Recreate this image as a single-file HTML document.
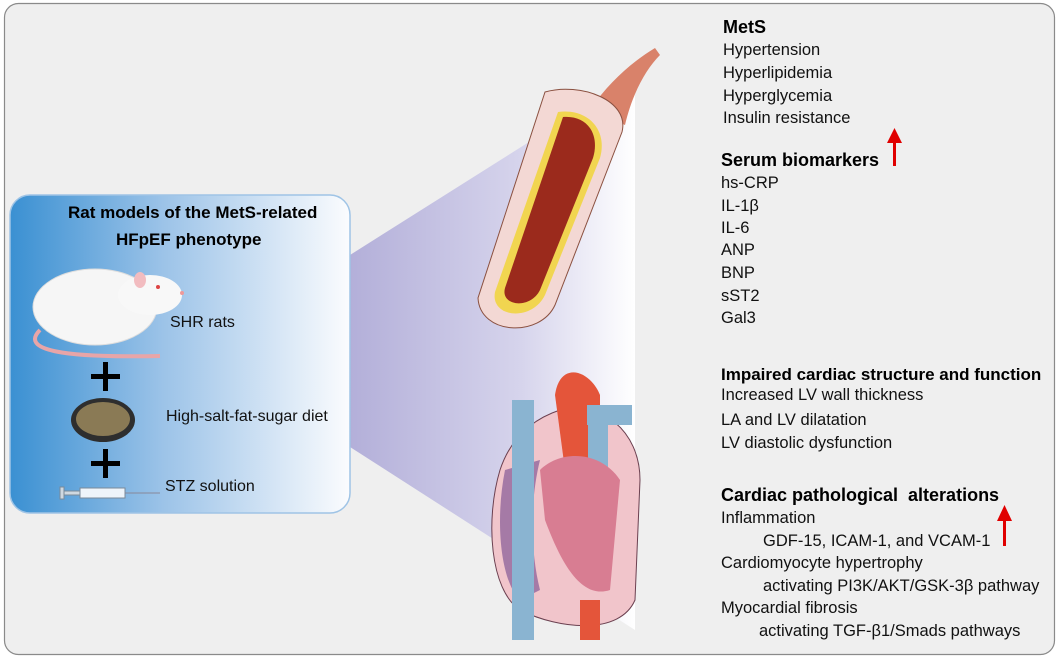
<!DOCTYPE html>
<html><head><meta charset="utf-8"><style>
body{margin:0;width:1059px;height:658px;background:#fff;font-family:"Liberation Sans",Arial,sans-serif;overflow:hidden}
svg{position:absolute;left:0;top:0}
.t{position:absolute;font-size:16.5px;color:#111;white-space:nowrap;line-height:1}
.b{font-weight:bold;font-size:17px;color:#000}
.l{font-size:16px}
</style></head><body>
<svg width="1059" height="658" viewBox="0 0 1059 658">
<defs>
<linearGradient id="box" x1="0" x2="1" y1="0" y2="0">
<stop offset="0" stop-color="#3a90d2"/><stop offset="0.45" stop-color="#9cc3e8"/><stop offset="1" stop-color="#fbfcfe"/></linearGradient>
<linearGradient id="wedge" x1="0" x2="1" y1="0" y2="0">
<stop offset="0" stop-color="#b3afd9"/><stop offset="0.6" stop-color="#d6d4ec"/><stop offset="1" stop-color="#ffffff"/></linearGradient>
</defs>
<rect x="4.5" y="3.5" width="1050" height="651" rx="14" fill="#efefef" stroke="#8a8a8a" stroke-width="1.2"/>
<polygon points="350,255 635,75 635,630 350,447" fill="url(#wedge)"/>
<rect x="10" y="195" width="340" height="318" rx="20" fill="url(#box)" stroke="#9fc4e6" stroke-width="1.5"/>
<!-- rat -->
<path d="M40,330 C20,350 60,358 160,356" stroke="#e8a5a8" stroke-width="4" fill="none"/>
<ellipse cx="95" cy="307" rx="62" ry="38" fill="#f6f6f6" stroke="#ddd"/>
<ellipse cx="150" cy="295" rx="32" ry="20" fill="#f8f8f8"/>
<ellipse cx="140" cy="280" rx="6" ry="8" fill="#f2bcc0"/>
<circle cx="158" cy="287" r="2" fill="#d44"/>
<circle cx="182" cy="293" r="2" fill="#e99"/>
<!-- bowl -->
<ellipse cx="103" cy="420" rx="32" ry="22" fill="#2e2e2e"/>
<ellipse cx="103" cy="419" rx="27" ry="17" fill="#8a7a55"/>
<g fill="#000"><rect x="91" y="374" width="29" height="5"/><rect x="103" y="362" width="5" height="29"/>
<rect x="91" y="461" width="29" height="5"/><rect x="103" y="449" width="5" height="29"/></g>
<!-- syringe -->
<rect x="80" y="488" width="45" height="10" fill="#eef4fa" stroke="#7a8a99"/>
<rect x="64" y="491" width="16" height="4" fill="#cfd8e0" stroke="#7a8a99"/>
<rect x="60" y="487" width="4" height="12" fill="#cfd8e0" stroke="#7a8a99"/>
<line x1="125" y1="493" x2="160" y2="493" stroke="#889" stroke-width="1"/>
<!-- vessel -->
<path d="M590,110 C610,80 635,60 655,48 L660,55 C645,70 632,95 625,125 Z" fill="#d9826a"/>
<path d="M545,92 C580,82 630,100 622,132 L555,305 C540,338 480,335 478,298 Z" fill="#f3d8d4" stroke="#8a5040"/>
<path d="M558,112 C588,108 608,130 600,158 L545,295 C532,322 490,318 495,292 Z" fill="#f1d550"/>
<path d="M563,117 C588,115 600,135 593,158 L540,290 C530,310 500,306 505,288 Z" fill="#9b2a1c"/>
<!-- heart -->
<path d="M560,410 C600,400 640,430 640,480 L635,600 C620,635 560,630 520,610 C490,590 485,520 500,470 C510,440 530,420 560,410 Z" fill="#f1c5cb" stroke="#6b4050"/>
<path d="M505,470 C495,520 500,580 520,600 L540,590 C530,550 530,500 540,460 Z" fill="#a57aa6"/>
<path d="M555,395 C560,360 590,370 600,395 L600,470 L565,470 Z" fill="#e4553a"/>
<rect x="512" y="400" width="22" height="240" fill="#8ab4d1"/>
<rect x="587" y="405" width="45" height="20" fill="#8ab4d1"/>
<rect x="588" y="410" width="20" height="70" fill="#8ab4d1"/>
<path d="M540,470 C560,450 600,450 620,480 L610,590 C580,600 560,560 545,520 Z" fill="#d87d92"/>
<rect x="580" y="600" width="20" height="40" fill="#e4553a"/>
<g fill="#e00000"><rect x="893" y="140" width="3" height="26"/><polygon points="887,143 902,143 894.5,128"/>
<rect x="1003" y="518" width="3" height="28"/><polygon points="997,521 1012,521 1004.5,505"/></g>
</svg>
<div class="t b" style="left:68px;top:204px">Rat models of the MetS-related</div>
<div class="t b" style="left:116px;top:231px">HFpEF phenotype</div>
<div class="t l" style="left:170px;top:315px">SHR rats</div>
<div class="t l" style="left:166px;top:409px">High-salt-fat-sugar diet</div>
<div class="t l" style="left:165px;top:479px">STZ solution</div>

<div class="t b" style="left:723px;top:18px;font-size:18px">MetS</div>
<div class="t" style="left:723px;top:42px">Hypertension</div>
<div class="t" style="left:723px;top:65px">Hyperlipidemia</div>
<div class="t" style="left:723px;top:88px">Hyperglycemia</div>
<div class="t" style="left:723px;top:110px">Insulin resistance</div>
<div class="t b" style="left:721px;top:151px;font-size:18px">Serum biomarkers</div>
<div class="t" style="left:721px;top:175px">hs-CRP</div>
<div class="t" style="left:721px;top:198px">IL-1β</div>
<div class="t" style="left:721px;top:220px">IL-6</div>
<div class="t" style="left:721px;top:242px">ANP</div>
<div class="t" style="left:721px;top:265px">BNP</div>
<div class="t" style="left:721px;top:288px">sST2</div>
<div class="t" style="left:721px;top:310px">Gal3</div>

<div class="t b" style="left:721px;top:366px">Impaired cardiac structure and function</div>
<div class="t" style="left:721px;top:387px">Increased LV wall thickness</div>
<div class="t" style="left:721px;top:412px">LA and LV dilatation</div>
<div class="t" style="left:721px;top:435px">LV diastolic dysfunction</div>
<div class="t b" style="left:721px;top:486px;font-size:18px">Cardiac pathological&nbsp; alterations</div>
<div class="t" style="left:721px;top:510px">Inflammation</div>
<div class="t" style="left:763px;top:533px">GDF-15, ICAM-1, and VCAM-1</div>
<div class="t" style="left:721px;top:555px">Cardiomyocyte hypertrophy</div>
<div class="t" style="left:763px;top:578px">activating PI3K/AKT/GSK-3β pathway</div>
<div class="t" style="left:721px;top:600px">Myocardial fibrosis</div>
<div class="t" style="left:759px;top:623px">activating TGF-β1/Smads pathways</div>
</body></html>
